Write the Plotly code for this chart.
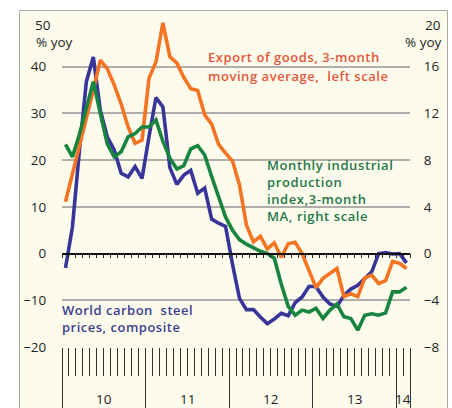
import plotly.graph_objects as go

# ---------------- data ----------------
years = ["10", "11", "12", "13", "14"]
year_centers = [5.5, 17.5, 29.5, 41.5, 48.5]          # month-index centre of each year block
year_bounds = [-0.5, 11.5, 23.5, 35.5, 47.5, 49.5]     # month-index year boundaries

# Export of goods, 3-month moving average, % yoy (left scale)
exports = [11.1, 17.0, 22.5, 28.5, 35.0, 41.4, 39.6, 36.1, 32.0, 27.1,
           23.6, 24.3, 37.5, 41.0, 49.4, 42.1, 40.8, 37.7, 35.3, 34.9,
           29.7, 27.7, 23.4, 21.5, 19.8, 14.7, 6.1, 2.5, 3.7, 1.0,
           2.3, -0.8, 2.1, 2.4, 0.0, -3.7, -7.3, -5.3, -4.2, -3.2,
           -9.2, -8.6, -9.2, -5.2, -4.6, -6.4, -5.8, -1.7, -2.1, -3.2]

# World carbon steel prices, composite, % yoy (left scale)
steel = [-3.1, 5.7, 22.0, 36.8, 42.1, 30.7, 25.0, 22.2, 17.2, 16.4,
         18.6, 16.1, 25.0, 33.4, 31.4, 18.4, 14.8, 16.8, 17.8, 12.9,
         14.0, 7.4, 6.5, 5.8, -2.3, -9.6, -12.0, -12.0, -13.6, -15.0,
         -14.0, -12.8, -13.3, -10.5, -9.3, -7.0, -7.1, -9.3, -10.8, -11.3,
         -9.0, -7.6, -6.8, -5.3, -3.9, 0.0, 0.2, -0.1, 0.0, -2.0]

# Monthly industrial production index, 3-month MA, % yoy (right scale)
indprod = [9.36, 8.28, 10.2, 12.4, 14.72, 12.0, 9.4, 8.28, 8.72, 10.0,
           10.28, 10.84, 10.84, 11.44, 9.6, 8.16, 7.24, 7.52, 8.96, 9.24,
           8.44, 6.6, 4.88, 3.12, 2.0, 1.2, 0.8, 0.48, 0.2, 0.0,
           -0.4, -2.6, -4.52, -5.28, -4.84, -5.0, -4.68, -5.56, -4.84, -4.32,
           -5.4, -5.56, -6.56, -5.28, -5.16, -5.28, -5.08, -3.28, -3.28, -2.88]

months = list(range(len(exports)))
month_bounds = [m - 0.5 for m in months] + [months[-1] + 0.5]

left_range = [-20, 50]
right_range = [-8, 20]
left_ticks = [-20, -10, 0, 10, 20, 30, 40]
right_ticks = [-8, -4, 0, 4, 8, 12, 16]
grid_vals = [-10, 10, 20, 30, 40, 50]

# ---------------- styling ----------------
CREAM = "#FDFCEC"
ORANGE = "#F47424"
GREEN = "#17843F"
BLUE = "#37359A"
ORANGE_TXT = "#E5553B"
GREEN_TXT = "#25774A"
BLUE_TXT = "#3D3D92"
TXT = "#1E1E1E"
FRAME = "#555555"
FONT = "Open Sans"

W, H = 452, 408
# paper area = the framed panel
FL, FR, FT = 20, 447, 11
L, R, T, B = FL, W - FR, FT, 0
pw, ph = W - L - R, H - T - B


def px(x):
    return (x - L) / pw


def py(y):
    return (H - B - y) / ph


# data plot area (pixels) -> domains
PL, PR, PT, PB = 62, 410, 20, 347
xdom = [px(PL), px(PR)]
ydom = [py(PB), py(PT)]

fig = go.Figure()
# frame subplot (only draws the panel frame)
fig.add_trace(go.Scatter(x=[None], y=[None], xaxis="x5", yaxis="y5", hoverinfo="skip"))
fig.add_trace(go.Scatter(x=months, y=steel, mode="lines", xaxis="x", yaxis="y",
                         line=dict(color=BLUE, width=3.6), hoverinfo="skip"))
fig.add_trace(go.Scatter(x=months, y=exports, mode="lines", xaxis="x", yaxis="y",
                         line=dict(color=ORANGE, width=3.6), hoverinfo="skip"))
fig.add_trace(go.Scatter(x=months, y=indprod, mode="lines", xaxis="x", yaxis="y2",
                         line=dict(color=GREEN, width=3.6), hoverinfo="skip"))
# empty helper traces so the extra axes get subplots
fig.add_trace(go.Scatter(x=[None], y=[None], xaxis="x2", yaxis="y", hoverinfo="skip"))
fig.add_trace(go.Scatter(x=[None], y=[None], xaxis="x3", yaxis="y", hoverinfo="skip"))
fig.add_trace(go.Scatter(x=[None], y=[None], xaxis="x", yaxis="y3", hoverinfo="skip"))

xr = [-0.5, len(months) - 0.5]
zero_frac = (0 - left_range[0]) / (left_range[1] - left_range[0])
zero_pos = ydom[0] + zero_frac * (ydom[1] - ydom[0])

fig.update_layout(
    width=W, height=H, autosize=False,
    margin=dict(l=L, r=R, t=T, b=B, pad=0),
    template="none",
    paper_bgcolor=CREAM, plot_bgcolor="rgba(0,0,0,0)",
    showlegend=False,
    font=dict(family=FONT, size=13.5, color=TXT),
    xaxis5=dict(domain=[0, 1], anchor="y5", range=[0, 1], side="top", showline=True,
                linecolor=FRAME, linewidth=1, showgrid=False, zeroline=False,
                showticklabels=False, ticks="", fixedrange=True),
    yaxis5=dict(domain=[0, 1], anchor="x5", range=[0, 1], showline=True, mirror=True,
                linecolor=FRAME, linewidth=1, showgrid=False, zeroline=False,
                showticklabels=False, ticks="", fixedrange=True),
    xaxis=dict(domain=xdom, anchor="y", range=xr, tickvals=month_bounds, ticks="outside",
               ticklen=28, tickwidth=1, tickcolor="#333", showticklabels=False,
               showgrid=False, zeroline=False, showline=False, fixedrange=True),
    xaxis2=dict(domain=xdom, range=xr, overlaying="x", anchor="free", position=zero_pos,
                side="bottom", tickvals=month_bounds, ticks="outside", ticklen=4,
                tickwidth=1, tickcolor="#222", showticklabels=False, showgrid=False,
                zeroline=False, showline=True, linecolor="#111", linewidth=1.5,
                fixedrange=True),
    xaxis3=dict(domain=xdom, range=xr, overlaying="x", anchor="y", side="bottom",
                tickvals=year_bounds, ticks="outside", ticklen=64, tickwidth=1,
                tickcolor="#333", showticklabels=False, showgrid=False,
                zeroline=False, showline=False, fixedrange=True),
    yaxis=dict(domain=ydom, anchor="x", range=left_range, tickvals=left_ticks,
               ticks="outside", ticklen=12, tickcolor="rgba(0,0,0,0)", showgrid=False,
               zeroline=False, showline=False, tickfont=dict(size=13.5, color=TXT),
               fixedrange=True),
    yaxis2=dict(domain=ydom, range=right_range, overlaying="y", side="right", anchor="x",
                tickvals=right_ticks, ticks="outside", ticklen=10,
                tickcolor="rgba(0,0,0,0)", showgrid=False, zeroline=False, showline=False,
                tickfont=dict(size=13.5, color=TXT), fixedrange=True),
    yaxis3=dict(domain=ydom, range=left_range, overlaying="y", anchor="x", side="left",
                tickvals=grid_vals, showticklabels=False, ticks="",
                showgrid=True, gridcolor="#AEAEAA", gridwidth=1.5,
                zeroline=False, showline=False, fixedrange=True),
)

# white page outside the framed panel
for x0, x1, y0, y1 in [(0, FL - 0.5, 0, H + 10), (0, W, 0, FT - 0.5), (FR + 0.5, W, 0, H + 10)]:
    fig.add_shape(type="rect", xref="paper", yref="paper",
                  x0=px(x0), x1=px(x1), y0=py(y1), y1=py(y0),
                  line=dict(width=0), fillcolor="white", layer="above")

ann = []
# year labels
for lab, c in zip(years, year_centers):
    ann.append(dict(x=c, xref="x", y=py(399), yref="paper", text=lab, showarrow=False,
                    font=dict(size=13.5, color=TXT), xanchor="center", yanchor="middle"))
# top tick labels (sit a little below the top line) and unit labels
ann.append(dict(x=px(33), y=py(25), xref="paper", yref="paper", text=str(left_range[1]),
                showarrow=False, xanchor="left", yanchor="middle", font=dict(size=13.5, color=TXT)))
ann.append(dict(x=px(34), y=py(42), xref="paper", yref="paper", text="% yoy",
                showarrow=False, xanchor="left", yanchor="middle", font=dict(size=13.5, color=TXT)))
ann.append(dict(x=px(423), y=py(25), xref="paper", yref="paper", text=str(right_range[1]),
                showarrow=False, xanchor="left", yanchor="middle", font=dict(size=13.5, color=TXT)))
ann.append(dict(x=px(403), y=py(42), xref="paper", yref="paper", text="% yoy",
                showarrow=False, xanchor="left", yanchor="middle", font=dict(size=13.5, color=TXT)))


def spaced(lines, ls):
    out = []
    for ln in lines:
        out.append(f'<span style="letter-spacing:{ls}px">{ln.replace("  ", "&nbsp; ")}</span>')
    return "<br>".join(out)


# series labels: (lines, left x px, centre y px, colour, letter spacing)
labels = [
    (["Export of goods, 3-month"], 207, 57, ORANGE_TXT, 0.55),
    (["moving average,  left scale"], 207, 76, ORANGE_TXT, 0.55),
    (["Monthly industrial", "production", "index,3-month", "MA, right scale"],
     266, 190.8, GREEN_TXT, 0.6),
    (["World carbon  steel", "prices, composite"], 61, 318.5, BLUE_TXT, 0.5),
]
for lines, x, y, col, ls in labels:
    ann.append(dict(x=px(x), y=py(y), xref="paper", yref="paper",
                    text=spaced(lines, ls), showarrow=False, align="left",
                    xanchor="left", yanchor="middle", borderpad=0,
                    font=dict(size=13, color=col, weight=600, family=FONT)))

fig.update_layout(annotations=ann)
fig.write_html("out.html", config={"displayModeBar": False},
               post_script="document.body.style.margin='0';document.body.style.overflow='hidden';")
